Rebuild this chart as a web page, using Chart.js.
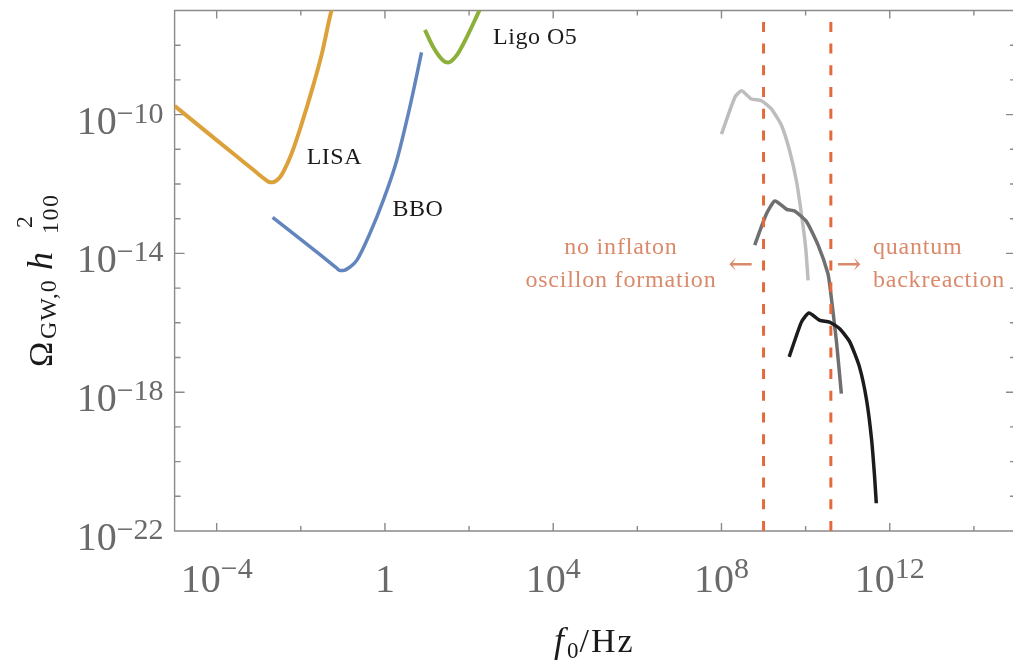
<!DOCTYPE html>
<html><head><meta charset="utf-8">
<script src="https://cdn.jsdelivr.net/npm/chart.js@4.4.1/dist/chart.umd.min.js"></script>
<style>
html,body{margin:0;padding:0;background:#fff;overflow:hidden;width:1013px;height:663px}
canvas{display:block}
</style></head>
<body>
<canvas id="c" width="1013" height="663"></canvas>
<script>
// ---- data (log10 of frequency in Hz, log10 of Omega_GW h^2) ----
const lisaLogF   = [-5.00, -4.30, -3.60, -3.10, -2.93, -2.80, -2.73, -2.62, -2.52, -2.42, -2.22, -1.98, -1.74, -1.50, -1.27, -1.24];
const lisaLogO   = [-9.75, -10.44, -11.13, -11.62, -11.79, -11.91, -11.95, -11.93, -11.84, -11.66, -11.13, -10.27, -9.31, -8.25, -7.00, -6.90];
const bboLogF    = [-2.67, -2.10, -1.55, -1.15, -1.07, -0.99, -0.83, -0.67, -0.36, -0.04, 0.28, 0.59, 0.87];
const bboLogO    = [-12.96, -13.50, -14.03, -14.42, -14.49, -14.49, -14.39, -14.20, -13.43, -12.47, -11.32, -9.79, -8.21];
const ligoLogF   = [0.95, 1.15, 1.39, 1.50, 1.70, 1.94, 2.26];
const ligoLogO   = [-7.56, -8.06, -8.45, -8.50, -8.30, -7.78, -6.96];
const lightLogF  = [8.00, 8.32, 8.48, 8.71, 8.95, 9.19, 9.43, 9.62, 9.78, 9.90, 10.00, 10.06];
const lightLogO  = [-10.56, -9.50, -9.31, -9.55, -9.60, -9.84, -10.32, -11.04, -11.90, -12.86, -13.82, -14.78];
const midLogF    = [8.79, 9.07, 9.27, 9.55, 9.74, 10.02, 10.30, 10.53, 10.58, 10.73, 10.85];
const midLogO    = [-13.76, -12.86, -12.49, -12.73, -12.78, -13.08, -13.77, -14.58, -14.97, -16.50, -18.04];
const darkLogF   = [9.61, 9.90, 10.08, 10.34, 10.57, 10.81, 11.05, 11.28, 11.45, 11.57, 11.64, 11.68];
const darkLogO   = [-16.98, -15.98, -15.72, -15.93, -15.98, -16.17, -16.55, -17.27, -18.23, -19.38, -20.44, -21.20];
const boundLogF  = [9.0, 10.6];           // dashed limits
const xRangeLog  = [-5, 14.93];
const yRangeLog  = [-22, -7];
const xTickExps  = [-4, -2, 0, 2, 4, 6, 8, 10, 12, 14];
const xLabelExps = [-4, 0, 4, 8, 12];
const yTickExps  = [-21,-20,-19,-18,-17,-16,-15,-14,-13,-12,-11,-10,-9,-8];
const yLabelExps = [-10, -14, -18, -22];
const curveNames = ['LISA', 'BBO', 'Ligo O5'];
const curveNameLogF = [-1.86, 0.18, 2.57];
const curveNameLogO = [-11.41, -12.92, -7.96];
const noteLeft   = ['no inflaton', 'oscillon formation'];
const noteRight  = ['quantum', 'backreaction'];

// ---- build datasets ----
const P = (lf, lo) => lf.map((v, i) => ({x: Math.pow(10, v), y: Math.pow(10, lo[i])}));
const vline = f => [{x: Math.pow(10, f), y: Math.pow(10, yRangeLog[0])}, {x: Math.pow(10, f), y: Math.pow(10, yRangeLog[1])}];
const DASH = '#E4693B';
const base = {showLine: true, pointRadius: 0, fill: false, clip: 0, borderJoinStyle: 'round', borderCapStyle: 'butt'};
const smooth = {cubicInterpolationMode: 'monotone'};
const soft = {tension: 0.18};
const datasets = [
  Object.assign({}, base, {data: vline(boundLogF[0]), borderColor: DASH, borderWidth: 3, borderDash: [10, 11.7]}),
  Object.assign({}, base, {data: vline(boundLogF[1]), borderColor: DASH, borderWidth: 3, borderDash: [10, 11.7]}),
  Object.assign({}, base, soft, {data: P(darkLogF, darkLogO), borderColor: '#1c1c1c', borderWidth: 3.5}),
  Object.assign({}, base, soft, {data: P(midLogF, midLogO), borderColor: '#6f6f6f', borderWidth: 3.5}),
  Object.assign({}, base, soft, {data: P(lightLogF, lightLogO), borderColor: '#bdbdbd', borderWidth: 3.5}),
  Object.assign({}, base, smooth, {data: P(ligoLogF, ligoLogO), borderColor: '#8DB03A', borderWidth: 4}),
  Object.assign({}, base, smooth, {data: P(bboLogF, bboLogO), borderColor: '#6385BD', borderWidth: 3.5}),
  Object.assign({}, base, smooth, {data: P(lisaLogF, lisaLogO), borderColor: '#DDA13B', borderWidth: 4})
];

const SERIF = '"Liberation Serif", "DejaVu Serif", serif';
const FRAME = '#8a8a8a';
const TICKTXT = '#6a6a6a';
const NOTE = '#DA8A6B';

const deco = {
  id: 'deco',
  beforeDatasetsDraw(chart) {
    const {ctx, chartArea: a, scales: {x, y}} = chart;
    ctx.save();
    ctx.strokeStyle = FRAME;
    ctx.lineWidth = 1.4;
    ctx.beginPath();
    ctx.moveTo(a.right + 5, a.top); ctx.lineTo(a.left, a.top);
    ctx.lineTo(a.left, a.bottom); ctx.lineTo(a.right + 5, a.bottom);
    xTickExps.forEach(e => {
      const px = x.getPixelForValue(Math.pow(10, e));
      const len = xLabelExps.includes(e) ? 8 : 5;
      ctx.moveTo(px, a.bottom); ctx.lineTo(px, a.bottom - len);
      ctx.moveTo(px, a.top); ctx.lineTo(px, a.top + len);
    });
    yTickExps.forEach(e => {
      const py = y.getPixelForValue(Math.pow(10, e));
      const len = yLabelExps.includes(e) ? 10 : 6;
      ctx.moveTo(a.left, py); ctx.lineTo(a.left + len, py);
      ctx.moveTo(a.right + 3, py); ctx.lineTo(a.right + 3 - len, py);
    });
    ctx.stroke();
    ctx.restore();
  },
  afterDatasetsDraw(chart) {
    const {ctx, chartArea: a, scales: {x, y}} = chart;
    const fx = v => x.getPixelForValue(Math.pow(10, v));
    const fy = v => y.getPixelForValue(Math.pow(10, v));
    ctx.save();
    ctx.fillStyle = TICKTXT;
    ctx.textBaseline = 'alphabetic';
    ctx.textAlign = 'left';
    const MAIN = '40px ' + SERIF, SUP = '30px ' + SERIF;
    // y tick labels
    yLabelExps.forEach(e => {
      const py = fy(e);
      const sup = '\u2212' + Math.abs(e);
      ctx.font = MAIN; const mw = ctx.measureText('10').width;
      ctx.font = SUP; const sw = ctx.measureText(sup).width;
      const x0 = a.left - 11 - sw - mw;
      ctx.font = MAIN; ctx.fillText('10', x0, py + 19);
      ctx.font = SUP; ctx.fillText(sup, x0 + mw, py + 8);
    });
    // x tick labels
    xLabelExps.forEach(e => {
      const px = fx(e);
      if (e === 0) {
        ctx.font = MAIN; ctx.textAlign = 'center';
        ctx.fillText('1', px, a.bottom + 61);
        ctx.textAlign = 'left';
        return;
      }
      const sup = (e < 0 ? '\u2212' : '') + Math.abs(e);
      ctx.font = MAIN; const mw = ctx.measureText('10').width;
      ctx.font = SUP; const sw = ctx.measureText(sup).width;
      const x0 = px - (mw + sw) / 2;
      ctx.font = MAIN; ctx.fillText('10', x0, a.bottom + 61);
      ctx.font = SUP; ctx.fillText(sup, x0 + mw, a.bottom + 47);
    });

    // axis titles
    ctx.fillStyle = '#1a1a1a';
    // x title: f_0/Hz
    let cx = 554, by = a.bottom + 121;
    ctx.font = 'italic 36px ' + SERIF; ctx.fillText('f', cx, by);
    cx += ctx.measureText('f').width + 3;
    ctx.font = '23px ' + SERIF; ctx.fillText('0', cx, by + 6);
    cx += ctx.measureText('0').width + 1;
    ctx.font = '34px ' + SERIF; ctx.letterSpacing = '2px'; ctx.fillText('/Hz', cx, by);
    ctx.letterSpacing = '0px';
    // y title: Omega_{GW,0} h^2_{100}
    ctx.save();
    ctx.translate(52, 367);
    ctx.rotate(-Math.PI / 2);
    ctx.font = '34px ' + SERIF; ctx.fillText('\u03A9', 0, 0);
    ctx.font = '24px ' + SERIF; ctx.letterSpacing = '1px'; ctx.fillText('GW,0', 28, 4);
    ctx.letterSpacing = '0px';
    ctx.font = 'italic 36px ' + SERIF; ctx.fillText('h', 97, 0);
    ctx.font = '24px ' + SERIF; ctx.fillText('2', 139, -20);
    ctx.letterSpacing = '1.5px'; ctx.fillText('100', 133, 6);
    ctx.letterSpacing = '0px';
    ctx.restore();

    // curve names
    ctx.font = '24px ' + SERIF; ctx.fillStyle = '#1a1a1a'; ctx.letterSpacing = '0.5px';
    curveNames.forEach((t, i) => ctx.fillText(t, fx(curveNameLogF[i]), fy(curveNameLogO[i])));
    // region notes
    ctx.fillStyle = NOTE; ctx.font = '24px ' + SERIF; ctx.letterSpacing = '0.8px';
    ctx.textAlign = 'center';
    ctx.fillText(noteLeft[0], fx(5.61), fy(-14.01));
    ctx.fillText(noteLeft[1], fx(5.61), fy(-14.97));
    ctx.letterSpacing = '0px';
    ctx.font = '30px "DejaVu Serif", serif';
    ctx.fillText('\u2190', fx(8.46), fy(-14.58));
    ctx.fillText('\u2192', fx(11.03), fy(-14.58));
    ctx.textAlign = 'left'; ctx.letterSpacing = '0.8px';
    ctx.font = '24px ' + SERIF;
    ctx.fillText(noteRight[0], fx(11.60), fy(-14.01));
    ctx.fillText(noteRight[1], fx(11.60), fy(-14.97));
    ctx.restore();
  }
};

new Chart(document.getElementById('c'), {
  type: 'scatter',
  data: {datasets},
  options: {
    responsive: false,
    animation: false,
    devicePixelRatio: 1,
    events: [],
    layout: {padding: {left: 174.6, right: 0, top: 10.5, bottom: 132}},
    plugins: {legend: {display: false}, tooltip: {enabled: false}},
    scales: {
      x: {type: 'logarithmic', min: Math.pow(10, xRangeLog[0]), max: Math.pow(10, xRangeLog[1]), display: false},
      y: {type: 'logarithmic', min: Math.pow(10, yRangeLog[0]), max: Math.pow(10, yRangeLog[1]), display: false}
    }
  },
  plugins: [deco]
});
</script>
</body></html>
